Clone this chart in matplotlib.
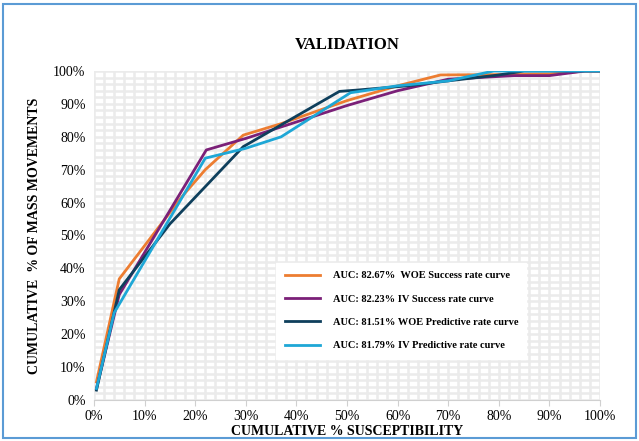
import matplotlib.pyplot as plt
from matplotlib.patches import Rectangle
from matplotlib.ticker import MultipleLocator, FuncFormatter

plt.rcParams['font.family'] = ['Liberation Serif', 'DejaVu Serif']

# cumulative % susceptibility vs cumulative % of mass movements
woe_s_x = [0.5, 5, 17.5, 22, 29.5, 37, 50, 60, 68.5, 90, 97, 100]
woe_s_y = [5.5, 36.8, 62, 70, 80.5, 84, 91, 95.5, 98.8, 99, 100, 100]

iv_s_x = [0.5, 5, 22.2, 30, 40, 50, 60, 70, 83, 90, 97, 100]
iv_s_y = [3.5, 32, 76, 79.5, 84.5, 89.5, 94, 97.5, 98.6, 98.6, 100, 100]

woe_p_x = [0.5, 5, 15, 29.5, 48.5, 52, 62, 70, 80, 85, 100]
woe_p_y = [3, 33.5, 53.5, 77, 93.8, 94.2, 95.5, 97, 98.8, 100, 100]

iv_p_x = [0.5, 4, 22, 30, 37, 50.7, 60, 70, 79, 100]
iv_p_y = [3.5, 26.5, 73.5, 76.5, 80, 93.4, 95.5, 97, 100, 100]

labels = ['AUC: 82.67%  WOE Success rate curve',
          'AUC: 82.23% IV Success rate curve',
          'AUC: 81.51% WOE Predictive rate curve',
          'AUC: 81.79% IV Predictive rate curve']
colors = ['#ed7d31', '#7b2078', '#0e3f5c', '#1ea7d6']

fig = plt.figure(figsize=(6.39, 4.41), dpi=100)
ax = fig.add_axes([0.147, 0.093, 0.792, 0.746])

ax.plot(woe_s_x, woe_s_y, color=colors[0], lw=2, label=labels[0])
ax.plot(iv_s_x, iv_s_y, color=colors[1], lw=2, label=labels[1])
ax.plot(woe_p_x, woe_p_y, color=colors[2], lw=2, label=labels[2])
ax.plot(iv_p_x, iv_p_y, color=colors[3], lw=2, label=labels[3])

ax.set_xlim(0, 100)
ax.set_ylim(0, 100)
ax.xaxis.set_major_locator(MultipleLocator(10))
ax.yaxis.set_major_locator(MultipleLocator(10))
ax.xaxis.set_minor_locator(MultipleLocator(2))
ax.yaxis.set_minor_locator(MultipleLocator(2))
pct = FuncFormatter(lambda v, p: '%d%%' % v)
ax.xaxis.set_major_formatter(pct)
ax.yaxis.set_major_formatter(pct)

ax.grid(True, which='both', color='#ebebeb', lw=1.8)
ax.set_axisbelow(True)
for s in ['top', 'right', 'left']:
    ax.spines[s].set_visible(False)
ax.spines['bottom'].set_color('#d0d0d0')
ax.tick_params(axis='x', which='major', length=4, color='#d0d0d0', labelsize=10, pad=3)
ax.tick_params(axis='y', which='major', length=0, labelsize=10, pad=6)
ax.tick_params(which='minor', length=0)

ax.set_title('VALIDATION', fontsize=12, fontweight='bold', pad=16)
ax.set_xlabel('CUMULATIVE % SUSCEPTIBILITY', fontsize=10, fontweight='bold', labelpad=2)
ax.set_ylabel('CUMULATIVE  % OF MASS MOVEMENTS', fontsize=10, fontweight='bold', labelpad=9)

leg = ax.legend(loc='lower left', bbox_to_anchor=(0.35, 0.11), frameon=True,
                fancybox=False, edgecolor='white', framealpha=1,
                prop={'weight': 'bold', 'size': 7.5}, labelspacing=1.35,
                handlelength=3.4, handletextpad=1.2, borderpad=0.8)

fig.patches.append(Rectangle((0.004, 0.007), 0.992, 0.983, transform=fig.transFigure,
                             fill=False, edgecolor='#5b9bd5', lw=1.5))

fig.savefig('out.png', dpi=100)
